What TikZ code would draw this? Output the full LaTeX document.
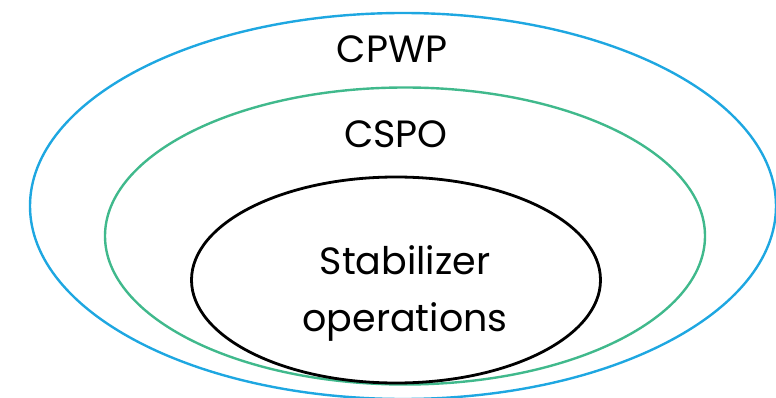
\documentclass[tikz,border=0pt]{standalone}
\usepackage{fontspec}
\setmainfont{Poppins}
\usetikzlibrary{shapes.geometric}

\definecolor{setblue}{HTML}{1EA7E1}
\definecolor{setgreen}{HTML}{40B98C}

\begin{document}
\begin{tikzpicture}[x=1pt, y=-1pt,
    setring/.style={draw, ellipse, inner sep=0pt, line width=2.4pt},
    setlabel/.style={font=\fontsize{38}{50}\selectfont, align=center}
]
    \useasboundingbox (0,0) rectangle (776,398);
    \clip (0,0) rectangle (776,398);
    % nested sets
    \node[setring, setblue, minimum width=746pt, minimum height=386pt] (cpwp) at (403,206) {};
    \node[setring, setgreen, minimum width=600pt, minimum height=297pt] (cspo) at (405,236) {};
    \node[setring, black, line width=2.8pt, minimum width=409pt, minimum height=206pt] (stab) at (396,280) {};
    % labels
    \node[setlabel] (cpwplabel) at (392,49) {CPWP};
    \node[setlabel] (cspolabel) at (396,134) {CSPO};
    \node[setlabel, font=\fontsize{38}{57}\selectfont, text depth=0pt] (stablabel) at (405,289) {Stabilizer\\operations};
\end{tikzpicture}
\end{document}
